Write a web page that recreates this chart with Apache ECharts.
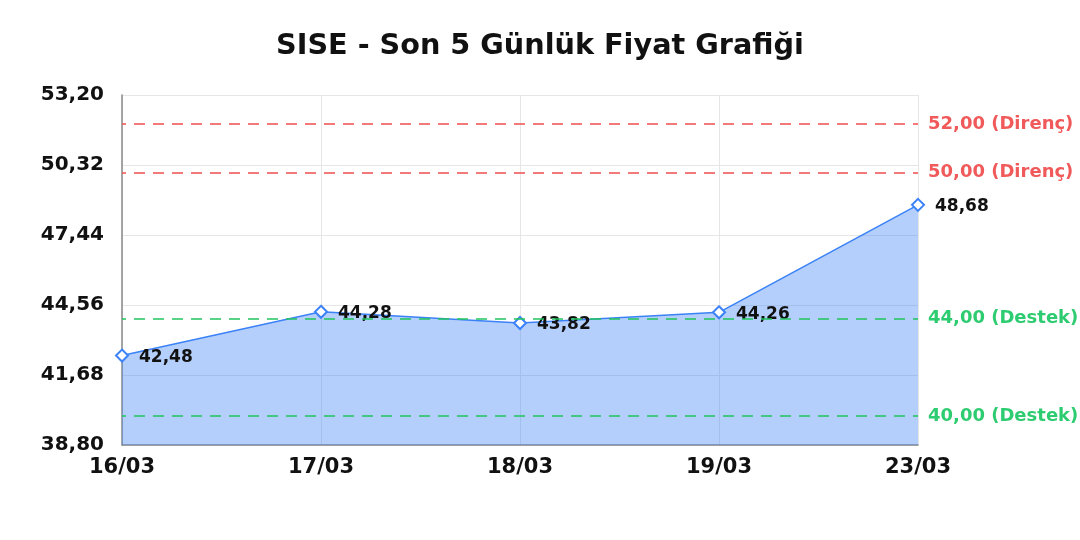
<!DOCTYPE html>
<html>
<head>
<meta charset="utf-8">
<script src="https://cdn.jsdelivr.net/npm/echarts@6/dist/echarts.min.js"></script>
<style>
  html, body { margin: 0; padding: 0; background: #fff; }
  #main { width: 1080px; height: 540px; }
</style>
</head>
<body>
<div id="main"></div>
<script>
// veriler
var dates = ['16/03', '17/03', '18/03', '19/03', '23/03'];
var prices = [42.48, 44.28, 43.82, 44.26, 48.68];
var resistance = [52, 50];
var support = [44, 40];

function fmt(v) {
    return Number(v).toFixed(2).replace('.', ',');
}

var lines = [];
resistance.forEach(function (v) {
    lines.push({
        yAxis: v,
        lineStyle: { color: '#f04f4f', type: [11, 8], dashOffset: 7, width: 1.5 },
        label: { color: '#f05a5a', formatter: fmt(v) + ' (Direnç)' }
    });
});
support.forEach(function (v) {
    lines.push({
        yAxis: v,
        lineStyle: { color: '#22c55e', type: [11, 8], dashOffset: 7, width: 1.5 },
        label: { color: '#2ecc71', formatter: fmt(v) + ' (Destek)' }
    });
});

var chart = echarts.init(document.getElementById('main'));
chart.setOption({
    animation: false,
    textStyle: { fontFamily: 'DejaVu Sans' },
    title: {
        text: 'SISE - Son 5 Günlük Fiyat Grafiği',
        left: 'center',
        top: 27,
        textStyle: { fontSize: 28.7, fontWeight: 'bold', color: '#111', fontFamily: 'DejaVu Sans' }
    },
    grid: { left: 122, right: 162, top: 95, bottom: 95 },
    xAxis: {
        type: 'category',
        data: dates,
        boundaryGap: false,
        axisLine: { lineStyle: { color: '#888', width: 1.5 } },
        axisTick: { show: false },
        splitLine: { show: true, lineStyle: { color: '#e6e6e6' } },
        axisLabel: { fontSize: 21, fontWeight: 'bold', color: '#111', margin: 12 }
    },
    yAxis: {
        type: 'value',
        min: 38.8,
        max: 53.2,
        interval: 2.88,
        axisLine: { show: true, lineStyle: { color: '#888', width: 1.5 } },
        axisTick: { show: false },
        splitLine: { lineStyle: { color: '#e6e6e6' } },
        axisLabel: { fontSize: 20, fontWeight: 'bold', color: '#111', margin: 18, formatter: fmt }
    },
    series: [{
        type: 'line',
        data: prices,
        symbol: 'emptyDiamond',
        symbolSize: 12,
        lineStyle: { color: '#3b82f6', width: 1.5 },
        itemStyle: { color: '#3b82f6', borderWidth: 2.5 },
        areaStyle: { color: 'rgba(59,130,246,0.38)', opacity: 1 },
        label: {
            show: true,
            position: 'right',
            distance: 10,
            offset: [0, 2],
            fontSize: 17,
            fontWeight: 'bold',
            color: '#111',
            formatter: function (p) { return fmt(p.value); }
        },
        markLine: {
            silent: true,
            symbol: 'none',
            label: { position: 'end', distance: 10, fontSize: 18, fontWeight: 'bold' },
            data: lines
        },
        z: 3
    }]
});
</script>
</body>
</html>
